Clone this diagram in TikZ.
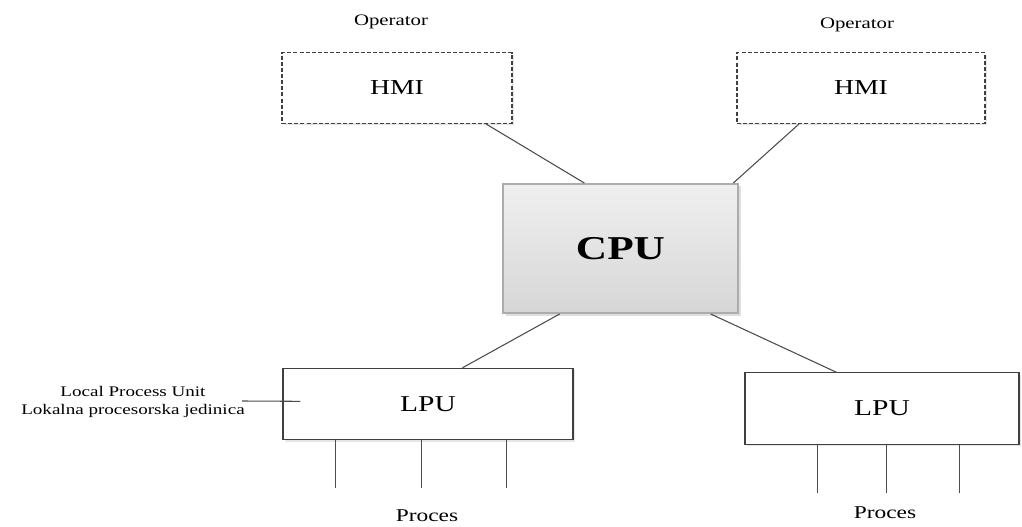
\documentclass[tikz,border=0pt]{standalone}
\usepackage{fontspec}
\setmainfont{Liberation Serif}[FakeStretch=1.3]
\usepackage{tikz}
\usetikzlibrary{positioning, shadows}

\tikzset{
    boxstyle/.style={draw=black!75, line width=0.8pt, fill=white, rectangle,
        drop shadow={opacity=0.2, shadow xshift=1.5pt, shadow yshift=-1.5pt}},
    hmibox/.style={boxstyle, dash pattern=on 3pt off 1.6pt,
        minimum height=53pt, font=\fontsize{16}{18}\selectfont},
    lpubox/.style={boxstyle, minimum height=53.5pt, font=\fontsize{17}{20}\selectfont},
    cpubox/.style={rectangle, draw=gray!65, line width=1.2pt, top color=gray!12,
        bottom color=gray!32, minimum width=176pt, minimum height=97pt,
        drop shadow={opacity=0.25, shadow xshift=2pt, shadow yshift=-2pt},
        font=\bfseries\fontsize{25}{28}\selectfont},
    link/.style={draw=black!70, line width=0.8pt},
    tag/.style={font=\fontsize{12}{14}\selectfont}
}

\begin{document}
\begin{tikzpicture}[x=0.75pt, y=-0.75pt]
    \useasboundingbox (0,0) rectangle (1022,527);

    % operators and their HMI panels
    \node[tag] (opL) at (391,22) {Operator};
    \node[tag] (opR) at (857,25) {Operator};
    \node[hmibox, minimum width=172.5pt] (hmiL) at (397,88) {HMI};
    \node[hmibox, minimum width=186pt] (hmiR) at (861,88) {HMI};

    % central unit
    \node[cpubox] (cpu) at (620.5,248.5) {CPU};

    % local units
    \node[lpubox, minimum width=217.5pt] (lpuL) at (428,404) {LPU};
    \node[lpubox, minimum width=205.5pt] (lpuR) at (882,408.5) {LPU};

    % links to the CPU
    \draw[link] ([xshift=-20pt]hmiL.south east) -- ([xshift=61.5pt]cpu.north west);
    \draw[link] ([xshift=47pt]hmiR.south west) -- ([xshift=-4pt]cpu.north east);
    \draw[link] ([xshift=43pt]cpu.south west) -- ([xshift=135pt]lpuL.north west);
    \draw[link] ([xshift=-21pt]cpu.south east) -- ([xshift=69pt]lpuR.north west);

    % process lines
    \foreach \dx in {39.75pt, 104.25pt, 168pt} {
            \draw[link] ([xshift=\dx]lpuL.south west) -- ++(0,48);
        }
    \foreach \dx in {54.75pt, 106.5pt, 161.25pt} {
            \draw[link] ([xshift=\dx]lpuR.south west) -- ++(0,48);
        }
    \node[tag, font=\fontsize{13.5}{16}\selectfont] (procL) at (427,516) {Proces};
    \node[tag, font=\fontsize{13.5}{16}\selectfont] (procR) at (885,513) {Proces};

    % description of the LPU
    \node[align=center, font=\fontsize{11}{13.5}\selectfont] (lpuNote) at (133,402)
        {Local Process Unit\\Lokalna procesorska jedinica};
    \coordinate (noteEnd) at (242,401);
    \draw[link] (noteEnd) -- ([shift={(13.5pt,2pt)}]lpuL.west);

\end{tikzpicture}
\end{document}
